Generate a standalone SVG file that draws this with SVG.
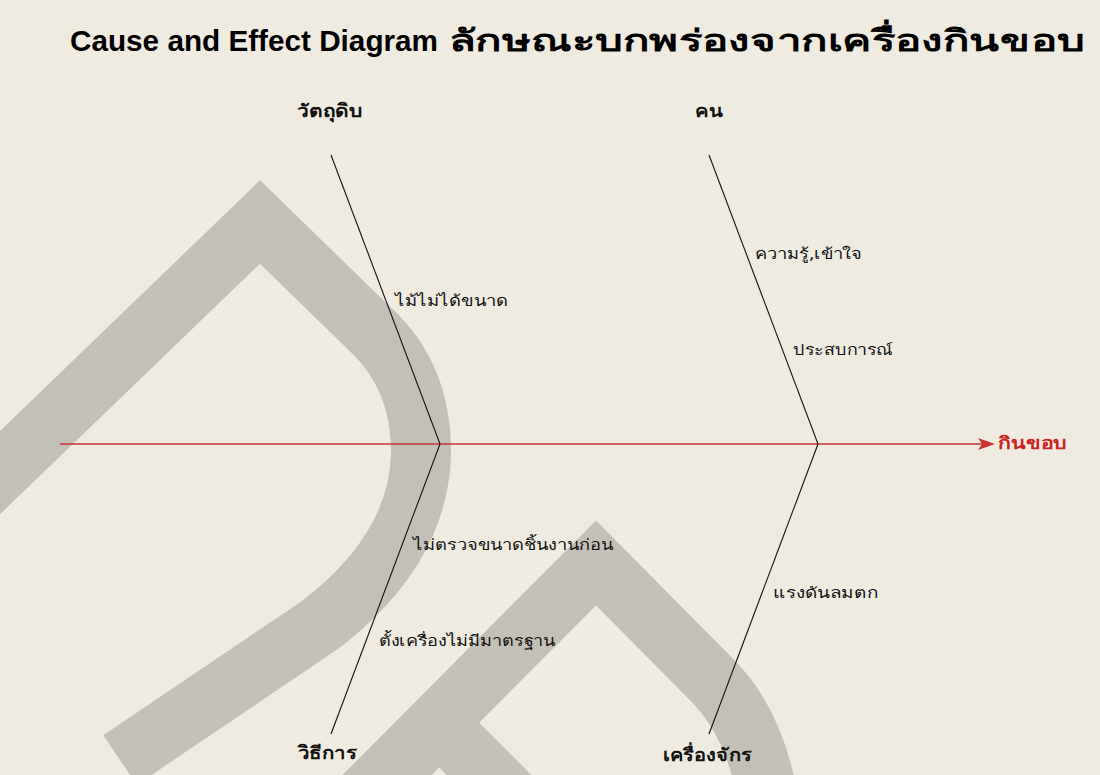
<svg xmlns="http://www.w3.org/2000/svg" width="1100" height="775" viewBox="0 0 1100 775">
<defs>
<style>
.bg{fill:#EFEBE1}
.wm{fill:none;stroke:#C3C0B7;stroke-width:60;stroke-linejoin:miter;stroke-miterlimit:10}
.bone{stroke:#111;stroke-width:1.1;fill:none}
.spine{stroke:#CC3333;stroke-width:1.6;fill:none}
.title{font-family:"Liberation Sans","DejaVu Sans","Noto Sans",sans-serif;font-weight:bold;font-size:30px;fill:#000}
.cat{font-family:"DejaVu Sans","Noto Sans",sans-serif;font-weight:bold;font-size:18px;fill:#111}
.cause{font-family:"DejaVu Sans","Noto Sans",sans-serif;font-size:15px;fill:#111}
.effect{font-family:"DejaVu Sans","Noto Sans",sans-serif;font-weight:bold;font-size:17px;fill:#CC2222}
</style>
<marker id="arr" viewBox="0 0 17 12" markerWidth="17" markerHeight="12" refX="14" refY="6" orient="auto" markerUnits="userSpaceOnUse">
<path d="M0,0 L17,6 L0,12 L4,6 z" fill="#CC3333"/>
</marker>
</defs>
<rect class="bg" x="0" y="0" width="1100" height="775"/>
<g id="watermark">
<path class="wm" d="M -70 540 L 260 222 L 372 331 Q 422 378 421 455 Q 418 550 320 625 L 120 760"/>
<path class="wm" d="M 330 830 L 596 563 L 712 680 Q 755 723 768 800"/>
<path class="wm" d="M 370 795 L 439 725 L 515 801"/>
</g>
<g id="connectors">
<line class="spine" x1="60" y1="444" x2="992" y2="444" marker-end="url(#arr)"/>
<line class="bone" x1="331" y1="155" x2="440" y2="444"/>
<line class="bone" x1="440" y1="444" x2="331" y2="734"/>
<line class="bone" x1="709" y1="155" x2="818" y2="444"/>
<line class="bone" x1="818" y1="444" x2="709" y2="734"/>
</g>
<g id="title">
<text class="title" y="51"><tspan x="70" textLength="368" lengthAdjust="spacingAndGlyphs">Cause and Effect Diagram</tspan><tspan x="449" textLength="636" lengthAdjust="spacingAndGlyphs">ลักษณะบกพร่องจากเครื่องกินขอบ</tspan></text>
</g>
<g id="cat-material"><text class="cat" x="297" y="117" textLength="65" lengthAdjust="spacingAndGlyphs">วัตถุดิบ</text></g>
<g id="cat-man"><text class="cat" x="695" y="117" textLength="27" lengthAdjust="spacingAndGlyphs">คน</text></g>
<g id="cat-method"><text class="cat" x="298" y="759" textLength="59" lengthAdjust="spacingAndGlyphs">วิธีการ</text></g>
<g id="cat-machine"><text class="cat" x="663" y="761" textLength="89" lengthAdjust="spacingAndGlyphs">เครื่องจักร</text></g>
<g id="cause-1"><text class="cause" x="395" y="306" textLength="113" lengthAdjust="spacingAndGlyphs">ไม้ไม่ได้ขนาด</text></g>
<g id="cause-2"><text class="cause" x="755" y="259" textLength="107" lengthAdjust="spacingAndGlyphs">ความรู้,เข้าใจ</text></g>
<g id="cause-3"><text class="cause" x="793" y="355" textLength="100" lengthAdjust="spacingAndGlyphs">ประสบการณ์</text></g>
<g id="cause-4"><text class="cause" x="413" y="550" textLength="200" lengthAdjust="spacingAndGlyphs">ไม่ตรวจขนาดชิ้นงานก่อน</text></g>
<g id="cause-5"><text class="cause" x="379" y="646" textLength="176" lengthAdjust="spacingAndGlyphs">ตั้งเครื่องไม่มีมาตรฐาน</text></g>
<g id="cause-6"><text class="cause" x="773" y="598" textLength="105" lengthAdjust="spacingAndGlyphs">แรงดันลมตก</text></g>
<g id="effect"><text class="effect" x="998" y="449" textLength="69" lengthAdjust="spacingAndGlyphs">กินขอบ</text></g>
</svg>
